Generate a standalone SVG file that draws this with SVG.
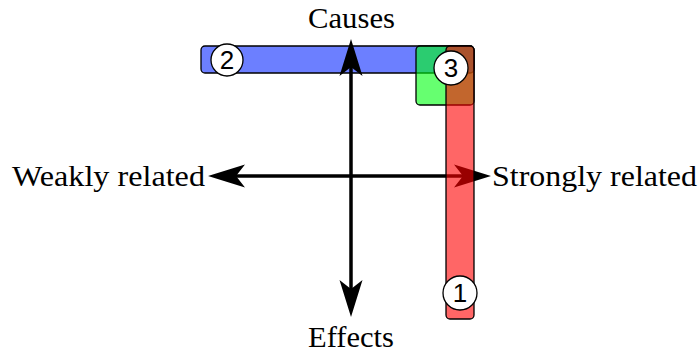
<svg xmlns="http://www.w3.org/2000/svg" width="700" height="356" viewBox="0 0 700 356">
  <style>
    .bar { stroke: #000; stroke-width: 1.3; fill-opacity: 0.6; }
    .axis { stroke: #000; stroke-width: 3.5; fill: none; marker-start: url(#stealth); marker-end: url(#stealth); }
    .axis-label { font-family: "Liberation Serif", "Times New Roman", serif; font-size: 29px; fill: #000; }
    .badge circle { fill: #fff; stroke: #000; stroke-width: 1.3; }
    .badge text { font-family: "Liberation Sans", Arial, sans-serif; font-size: 26px; fill: #000; text-anchor: middle; }
  </style>
  <defs>
    <!-- stealth arrowhead, anchored at its notch -->
    <marker id="stealth" markerUnits="userSpaceOnUse" orient="auto-start-reverse" refX="0" refY="0" overflow="visible">
      <path d="M28,0 L-9,-11.5 L0,0 L-9,11.5 Z" fill="#000"/>
    </marker>
  </defs>

  <rect width="700" height="356" fill="#fff"/>

  <!-- causes band -->
  <g id="causes-band">
    <rect class="bar" x="201" y="46" width="273" height="27" rx="4" fill="#0a2aff"/>
    <g class="badge">
      <circle cx="227" cy="60" r="16"/>
      <text x="227" y="69">2</text>
    </g>
  </g>

  <!-- axes -->
  <g id="axes">
    <path class="axis" d="M351,67 L351,289"/>
    <path class="axis" d="M236,176 L463,176"/>
  </g>

  <!-- overlap corner -->
  <g id="corner">
    <rect class="bar" x="416" y="46" width="58" height="59" rx="4" fill="#00ff10"/>
  </g>

  <!-- strongly related band -->
  <g id="strong-band">
    <rect class="bar" x="446" y="46" width="28" height="273" rx="4" fill="#ff0000"/>
    <g class="badge">
      <circle cx="460" cy="293" r="17"/>
      <text x="460" y="302">1</text>
    </g>
  </g>

  <g id="both" class="badge">
    <circle cx="451" cy="68" r="17"/>
    <text x="451" y="77">3</text>
  </g>

  <!-- axis labels -->
  <g id="labels">
    <text class="axis-label" x="308" y="28" textLength="87" lengthAdjust="spacingAndGlyphs">Causes</text>
    <text class="axis-label" x="308" y="347" textLength="86" lengthAdjust="spacingAndGlyphs">Effects</text>
    <text class="axis-label" x="12" y="186" textLength="193" lengthAdjust="spacingAndGlyphs">Weakly related</text>
    <text class="axis-label" x="492" y="186" textLength="205" lengthAdjust="spacingAndGlyphs">Strongly related</text>
  </g>
</svg>
